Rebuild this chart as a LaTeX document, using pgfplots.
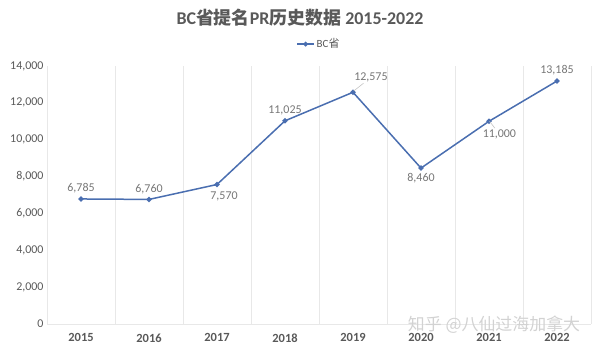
\documentclass[border=0pt]{standalone}
\usepackage{pgfplots}
\pgfplotsset{compat=1.18}
\usepackage{fontspec}
\setmainfont{Carlito}
\newfontfamily\cjk{Noto Sans CJK SC}
\definecolor{line}{HTML}{4A6EB0}
\definecolor{txt}{HTML}{595959}
\definecolor{lbl}{HTML}{767676}
\definecolor{grd}{HTML}{E8E8E8}
\begin{document}
\begin{tikzpicture}
\path[use as bounding box] (-47bp,-27bp) rectangle (553bp,324bp);
\node[font=\bfseries\fontsize{18}{20}\selectfont, text=txt] at (253bp,306bp) {BC{\cjk\bfseries 省提名}PR{\cjk\bfseries 历史数据} 2015-2022};
\begin{axis}[
  at={(0,0)}, anchor=south west,
  scale only axis, width=544bp, height=258bp,
  xmin=-0.5, xmax=7.5, ymin=0, ymax=14000,
  xtick={0,...,7},
  xticklabels={2015,2016,2017,2018,2019,2020,2021,2022},
  minor xtick={-0.5,0.5,...,7.5},
  xminorgrids, minor grid style={draw=grd, line width=0.8bp},
  ytick={0,2000,...,14000},
  major tick length=0, minor tick length=0,
  axis lines=left, axis line style={-, draw=grd, line width=0.8bp},
  /pgf/number format/assume math mode=true,
  /pgf/number format/1000 sep={,},
  scaled y ticks=false,
  yticklabel style={font=\fontsize{12}{14}\selectfont, text=txt},
  xticklabel style={font=\bfseries\fontsize{12.5}{14}\selectfont, text=txt, yshift=-6bp},
  legend style={draw=none, fill=none, at={(0.5,1.085)}, anchor=center,
    font=\fontsize{11}{13}\selectfont, text=txt},
  legend image post style={line width=1.2bp},
  every node near coord/.append style={font=\fontsize{12}{14}\selectfont, text=lbl},
  clip=false,
]
\addplot[color=line, line width=1.5bp, mark=*, mark size=1.8bp]
  coordinates {(0,6785) (1,6760) (2,7570) (3,11025) (4,12575) (5,8460) (6,11000) (7,13185)};
\addlegendentry{BC{\cjk 省}}
% labels above
\addplot[draw=none, forget plot, nodes near coords, every node near coord/.append style={anchor=south, yshift=2bp}]
  coordinates {(0,6785) (1,6760) (3,11025) (7,13185)};
% label below
\addplot[draw=none, forget plot, nodes near coords, every node near coord/.append style={anchor=north, yshift=-2bp}]
  coordinates {(5,8460)};
% label below right
\addplot[draw=none, forget plot, nodes near coords, every node near coord/.append style={anchor=north, xshift=7bp, yshift=-4bp}]
  coordinates {(2,7570)};
% labels with leader lines
\addplot[draw=none, forget plot, nodes near coords={},
  every node near coord/.append style={inner sep=0pt,
    pin={[pin distance=19bp, anchor=south, pin edge={draw=gray!45, line width=0.6bp}, text=lbl, font=\fontsize{12}{14}\selectfont, inner sep=1bp]25:\pgfmathprintnumber{\pgfplotspointmeta}}}]
  coordinates {(4,12575)};
\addplot[draw=none, forget plot, nodes near coords={},
  every node near coord/.append style={inner sep=0pt,
    pin={[pin distance=12bp, anchor=north, pin edge={draw=gray!45, line width=0.6bp}, text=lbl, font=\fontsize{12}{14}\selectfont, inner sep=1bp]-36:\pgfmathprintnumber{\pgfplotspointmeta}}}]
  coordinates {(6,11000)};
\end{axis}
\node[font=\cjk\fontsize{17}{19}\selectfont, text=gray!35] at (447bp,-1bp) {知乎 @八仙过海加拿大};
\end{tikzpicture}
\end{document}
